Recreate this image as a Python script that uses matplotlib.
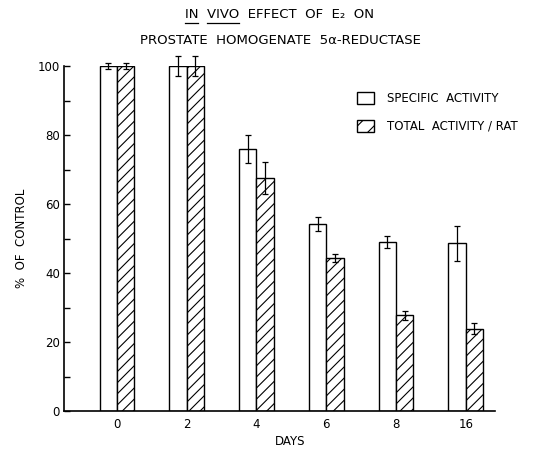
import numpy as np
import matplotlib.pyplot as plt
from matplotlib.patches import Patch

# data
days = ['0', '2', '4', '6', '8', '16']
specific = [100, 100, 76, 54.3, 49, 48.6]
specific_err = [1, 3, 4, 2, 1.8, 5]
total = [100, 100, 67.5, 44.3, 27.7, 23.9]
total_err = [1, 3, 4.7, 1.2, 1.2, 1.7]

plt.rcParams['font.family'] = 'DejaVu Sans'
plt.rcParams['hatch.linewidth'] = 0.8
fs = 8.5

fig = plt.figure(figsize=(5.35, 4.49), dpi=100)
ax = fig.add_axes([64 / 535, 1 - 411 / 449, (495 - 64) / 535, (411 - 66) / 449])

x = np.arange(len(days))
w = 0.25
ax.bar(x - w / 2, specific, w, color='white', edgecolor='black', linewidth=1.0)
ax.bar(x + w / 2, total, w, color='white', edgecolor='black', linewidth=1.0, hatch='///')
ax.errorbar(x - w / 2, specific, yerr=specific_err, fmt='none', ecolor='black',
            elinewidth=0.9, capsize=2.5, capthick=0.9, clip_on=False)
ax.errorbar(x + w / 2, total, yerr=total_err, fmt='none', ecolor='black',
            elinewidth=0.9, capsize=2.5, capthick=0.9, clip_on=False)

ax.set_xlim(-0.76, 5.42)
ax.set_ylim(0, 100)
ax.set_xticks(x)
ax.set_xticklabels(days, fontsize=fs)
ax.tick_params(axis='x', length=0, pad=5)
ax.set_yticks(np.arange(0, 101, 20))
ax.set_yticks(np.arange(10, 100, 20), minor=True)
ax.tick_params(axis='y', which='both', direction='in', length=4, width=1, labelsize=fs, pad=3)
for s in ['top', 'right']:
    ax.spines[s].set_visible(False)
ax.spines['left'].set_linewidth(1.2)
ax.spines['bottom'].set_linewidth(1.2)

ax.set_ylabel('%  OF  CONTROL', fontsize=fs)
ax.yaxis.set_label_coords(-0.083, 0.5)
ax.set_xlabel('DAYS', fontsize=fs)
ax.xaxis.set_label_coords(0.525, -0.07)

# title with underlined words
tfs = 9.5
line1 = 'IN  VIVO  EFFECT  OF  E\u2082  ON'
line2 = 'PROSTATE  HOMOGENATE  5\u03b1-REDUCTASE'
t1 = fig.text(0.522, 1 - 15 / 449, line1, ha='center', va='center', fontsize=tfs)
fig.text(0.525, 1 - 40 / 449, line2, ha='center', va='center', fontsize=tfs)

fig.canvas.draw()
r = fig.canvas.get_renderer()
bb = t1.get_window_extent(r)
prop = t1.get_fontproperties()


def tw(s):
    return r.get_text_width_height_descent(s, prop, ismath=False)[0]


y_ul = bb.y0 - 1.5
for a, b in [('', 'IN'), ('IN  ', 'VIVO')]:
    x0 = bb.x0 + tw(a) if a else bb.x0
    x1 = x0 + tw(b)
    fig.add_artist(plt.Line2D([x0 / fig.bbox.width, x1 / fig.bbox.width],
                              [y_ul / fig.bbox.height] * 2, color='black', lw=0.9))

handles = [Patch(facecolor='white', edgecolor='black', linewidth=1.0),
           Patch(facecolor='white', edgecolor='black', linewidth=1.0, hatch='//')]
fig.legend(handles, ['SPECIFIC  ACTIVITY', 'TOTAL  ACTIVITY / RAT'],
           loc='upper left', bbox_to_anchor=(357 / 535, 1 - 92 / 449),
           bbox_transform=fig.transFigure, frameon=False, fontsize=fs,
           handlelength=1.45, handleheight=1.15, handletextpad=1.1,
           labelspacing=1.25, borderpad=0, borderaxespad=0)

fig.savefig('out.png', dpi=100)
